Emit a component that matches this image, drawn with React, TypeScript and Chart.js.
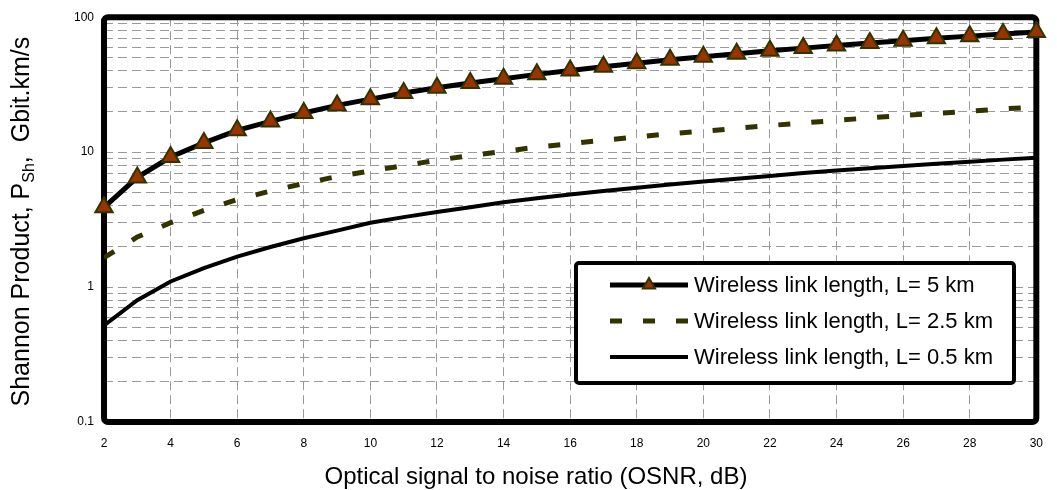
import React, { useEffect, useRef } from 'react';
import { Chart, registerables } from 'chart.js';
import { drawPoint } from 'chart.js/helpers';

Chart.register(...registerables);

// ---- data ----
const osnrDb = [2, 3, 4, 5, 6, 7, 8, 9, 10, 11, 12, 13, 14, 15, 16, 17, 18, 19, 20, 21, 22, 23, 24, 25, 26, 27, 28, 29, 30];
const shannonL5 = [3.9, 6.5, 9.2, 11.7, 14.5, 16.9, 19.5, 22.2, 24.7, 27.4, 30.0, 32.5, 35.0, 37.7, 40.3, 43.0, 45.6, 48.3, 51.0, 53.6, 56.3, 59.0, 61.7, 64.3, 67.0, 69.7, 72.4, 75.0, 77.6];
const shannonL25 = [1.65, 2.35, 3.0, 3.7, 4.45, 5.15, 5.85, 6.6, 7.25, 7.95, 8.7, 9.45, 10.1, 10.9, 11.55, 12.25, 12.95, 13.7, 14.3, 15.0, 15.75, 16.45, 17.2, 17.95, 18.7, 19.4, 20.1, 20.9, 21.6];
const shannonL05 = [0.52, 0.8, 1.1, 1.38, 1.68, 1.98, 2.3, 2.62, 3.0, 3.3, 3.6, 3.9, 4.25, 4.55, 4.85, 5.15, 5.45, 5.75, 6.05, 6.35, 6.65, 7.0, 7.3, 7.6, 7.9, 8.2, 8.5, 8.8, 9.1];
const seriesLabels = [
  'Wireless link length, L= 5 km',
  'Wireless link length, L= 2.5 km',
  'Wireless link length, L= 0.5 km',
];
const yDecades = [0.1, 1, 10, 100];
const yMultipliers = [1, 2, 3, 4, 5, 6, 7, 8, 9];
const xMin = 2;
const xMax = 30;
const xStep = 2;
const yTitleMain = 'Shannon Product, P';
const yTitleSub = 'Sh';
const yTitleRest = ',  Gbit.km/s';
const xTitle = 'Optical signal to noise ratio (OSNR, dB)';

const FONT = '"Liberation Sans", Arial, sans-serif';

const yGridValues: number[] = [];
yDecades.slice(0, -1).forEach((d) => yMultipliers.forEach((m) => yGridValues.push(+(m * d).toPrecision(3))));
yGridValues.push(yDecades[yDecades.length - 1]);

const toPoints = (ys: number[]) => osnrDb.map((x, i) => ({ x, y: ys[i] }));

const decoPlugin = {
  id: 'deco',
  beforeDatasetsDraw(chart: any) {
    const { ctx, chartArea } = chart;
    ctx.save();
    ctx.lineWidth = 6;
    ctx.strokeStyle = '#000';
    ctx.lineJoin = 'round';
    ctx.beginPath();
    ctx.roundRect(chartArea.left, chartArea.top, chartArea.right - chartArea.left, chartArea.bottom - chartArea.top, 4);
    ctx.stroke();
    ctx.restore();
  },
  afterDatasetsDraw(chart: any) {
    const { ctx } = chart;
    // legend box
    const bx = 576, by = 263, bw = 438, bh = 120;
    ctx.save();
    ctx.fillStyle = '#fff';
    ctx.strokeStyle = '#000';
    ctx.lineWidth = 4;
    ctx.beginPath();
    ctx.roundRect(bx, by, bw, bh, 3);
    ctx.fill();
    ctx.stroke();
    const rows = [285, 321, 357];
    chart.data.datasets.forEach((ds: any, i: number) => {
      const y = rows[i];
      ctx.save();
      ctx.strokeStyle = ds.borderColor;
      ctx.lineWidth = ds.borderWidth;
      ctx.setLineDash(ds.borderDash || []);
      ctx.beginPath();
      ctx.moveTo(610, y);
      ctx.lineTo(688, y);
      ctx.stroke();
      ctx.restore();
      if (ds.pointRadius > 0) {
        ctx.save();
        ctx.fillStyle = ds.pointBackgroundColor;
        ctx.strokeStyle = ds.pointBorderColor;
        ctx.lineWidth = ds.pointBorderWidth;
        drawPoint(ctx, { pointStyle: ds.pointStyle, radius: 7, rotation: 0, borderWidth: ds.pointBorderWidth }, 649, y);
        ctx.restore();
      }
      ctx.fillStyle = '#000';
      ctx.font = `22px ${FONT}`;
      ctx.textBaseline = 'middle';
      ctx.textAlign = 'left';
      ctx.fillText(ds.label, 694, y + 1);
    });
    ctx.restore();
  },
  afterDraw(chart: any) {
    const { ctx, chartArea } = chart;
    ctx.save();
    ctx.fillStyle = '#000';
    // x title
    ctx.font = `24px ${FONT}`;
    ctx.textAlign = 'center';
    ctx.textBaseline = 'alphabetic';
    ctx.fillText(xTitle, 536, 484);
    // y title with subscript
    const big = `25px ${FONT}`;
    const small = `16px ${FONT}`;
    ctx.font = big;
    const w1 = ctx.measureText(yTitleMain).width;
    const w3 = ctx.measureText(yTitleRest).width;
    ctx.font = small;
    const w2 = ctx.measureText(yTitleSub).width;
    const total = w1 + w2 + w3;
    ctx.translate(29, (chartArea.top + chartArea.bottom) / 2 + 2);
    ctx.rotate(-Math.PI / 2);
    ctx.textAlign = 'left';
    let x = -total / 2;
    ctx.font = big;
    ctx.fillText(yTitleMain, x, 0);
    x += w1;
    ctx.font = small;
    ctx.fillText(yTitleSub, x, 5);
    x += w2;
    ctx.font = big;
    ctx.fillText(yTitleRest, x, 0);
    ctx.restore();
  },
};

export default function App() {
  const ref = useRef<HTMLCanvasElement | null>(null);
  useEffect(() => {
    document.body.style.margin = '0';
    if (!ref.current) return;
    const chart = new Chart(ref.current, {
      type: 'line',
      data: {
        datasets: [
          {
            label: seriesLabels[0],
            data: toPoints(shannonL5),
            borderColor: '#000',
            borderWidth: 5,
            pointStyle: 'triangle',
            pointRadius: 10,
            pointBackgroundColor: '#993300',
            pointBorderColor: '#333300',
            pointBorderWidth: 2,
            clip: false,
          } as any,
          {
            label: seriesLabels[1],
            data: toPoints(shannonL25),
            borderColor: '#333300',
            borderWidth: 5,
            borderDash: [12, 21],
            pointRadius: 0,
          },
          {
            label: seriesLabels[2],
            data: toPoints(shannonL05),
            borderColor: '#000',
            borderWidth: 4,
            pointRadius: 0,
          },
        ],
      },
      options: {
        animation: false,
        responsive: true,
        maintainAspectRatio: false,
        layout: { padding: { top: 17, right: 18, left: 0, bottom: 0 } },
        plugins: { legend: { display: false }, tooltip: { enabled: false } },
        scales: {
          x: {
            type: 'linear',
            min: xMin,
            max: xMax,
            ticks: { stepSize: xStep, font: { size: 12, family: FONT }, color: '#000', padding: 14, maxRotation: 0, autoSkip: false },
            grid: { color: '#9a9a9a', lineWidth: 1, drawTicks: false },
            border: { display: false, dash: [9, 5] },
            afterFit: (s: any) => { s.height = 68; },
          },
          y: {
            type: 'logarithmic',
            min: yDecades[0],
            max: yDecades[yDecades.length - 1],
            afterBuildTicks: (s: any) => { s.ticks = yGridValues.map((v) => ({ value: v })); },
            ticks: {
              autoSkip: false,
              font: { size: 12, family: FONT },
              color: '#000',
              padding: 10,
              callback: (v: any) => (yDecades.includes(+v) ? String(v) : ''),
            },
            grid: { color: '#9a9a9a', lineWidth: 1, drawTicks: false },
            border: { display: false, dash: [9, 5] },
            afterFit: (s: any) => { s.width = 104; },
          },
        },
      },
      plugins: [decoPlugin],
    });
    return () => chart.destroy();
  }, []);
  return (
    <div style={{ position: 'fixed', left: 0, top: 0, width: 1057, height: 490 }}>
      <canvas ref={ref} />
    </div>
  );
}
